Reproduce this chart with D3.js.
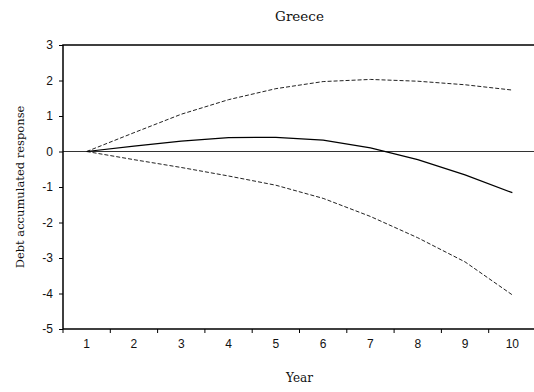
<!DOCTYPE html>
<html>
<head>
<meta charset="utf-8">
<script src="https://cdn.jsdelivr.net/npm/d3@7"></script>
<style>
  html, body { margin: 0; padding: 0; background: #fff; }
  svg { display: block; }
</style>
</head>
<body>
<svg id="chart" width="534" height="392"></svg>
<script>
// Accumulated response of debt over a 10-year horizon, with its confidence bands
const years = [1, 2, 3, 4, 5, 6, 7, 8, 9, 10];
const response = [0, 0.15, 0.29, 0.39, 0.40, 0.32, 0.10, -0.23, -0.66, -1.16];
const upperBand = [0, 0.53, 1.05, 1.46, 1.77, 1.97, 2.03, 1.98, 1.88, 1.73];
const lowerBand = [0, -0.23, -0.45, -0.69, -0.95, -1.32, -1.83, -2.43, -3.11, -4.04];
const yTicks = [-5, -4, -3, -2, -1, 0, 1, 2, 3];

const svg = d3.select("#chart");
const plotLeft = 63, plotRight = 536, plotTop = 45, plotBottom = 329;

const x = d3.scaleBand().domain(years).range([plotLeft, plotRight]).padding(0);
const y = d3.scaleLinear().domain([-5, 3]).range([plotBottom, plotTop]);
const cx = d => x(d) + x.bandwidth() / 2;

const sans = "'Liberation Sans', Arial, sans-serif";
const serif = "'DejaVu Serif', serif";

// Zero reference line
svg.append("line")
  .attr("x1", plotLeft).attr("x2", plotRight)
  .attr("y1", y(0)).attr("y2", y(0))
  .attr("stroke", "#333").attr("stroke-width", 1);

// Y axis (plain hyphen for negative labels)
const yAxis = svg.append("g")
  .attr("transform", `translate(${plotLeft},0)`)
  .call(d3.axisLeft(y).tickValues(yTicks).tickSize(4).tickPadding(6).tickFormat(d => String(d)));
yAxis.select(".domain").remove();
yAxis.selectAll("line").attr("stroke", "#000");
yAxis.selectAll("text").attr("font-family", sans).attr("font-size", 12).attr("fill", "#111");

// X axis: labels centred in each year's band, ticks on band boundaries
const xAxis = svg.append("g")
  .attr("transform", `translate(0,${plotBottom})`)
  .call(d3.axisBottom(x).tickSize(0).tickPadding(10));
xAxis.select(".domain").remove();
xAxis.selectAll("text").attr("font-family", sans).attr("font-size", 12).attr("fill", "#111");
svg.append("g").selectAll("line")
  .data(years)
  .join("line")
  .attr("x1", d => x(d)).attr("x2", d => x(d))
  .attr("y1", plotBottom).attr("y2", plotBottom + 4)
  .attr("stroke", "#000").attr("stroke-width", 1);

// Plot frame
svg.append("path")
  .attr("d", `M${plotRight},${plotTop}H${plotLeft}V${plotBottom}H${plotRight}`)
  .attr("fill", "none").attr("stroke", "#000").attr("stroke-width", 1.5);

// Series
const line = d3.line().x((d, i) => cx(years[i])).y(d => y(d));
svg.append("path").datum(upperBand)
  .attr("d", line).attr("fill", "none")
  .attr("stroke", "#222").attr("stroke-width", 1).attr("stroke-dasharray", "4,2");
svg.append("path").datum(lowerBand)
  .attr("d", line).attr("fill", "none")
  .attr("stroke", "#222").attr("stroke-width", 1).attr("stroke-dasharray", "4,2");
svg.append("path").datum(response)
  .attr("d", line).attr("fill", "none")
  .attr("stroke", "#000").attr("stroke-width", 1.2);

// Titles
svg.append("text")
  .attr("x", (plotLeft + plotRight) / 2).attr("y", 21)
  .attr("text-anchor", "middle")
  .attr("font-family", serif).attr("font-size", 13.5).attr("fill", "#111")
  .text("Greece");

svg.append("text")
  .attr("x", (plotLeft + plotRight) / 2).attr("y", 382)
  .attr("text-anchor", "middle")
  .attr("font-family", serif).attr("font-size", 12).attr("fill", "#111")
  .text("Year");

svg.append("text")
  .attr("transform", "translate(24,187) rotate(-90)")
  .attr("text-anchor", "middle")
  .attr("font-family", serif).attr("font-size", 11.5).attr("fill", "#111")
  .text("Debt accumulated response");
</script>
</body>
</html>
